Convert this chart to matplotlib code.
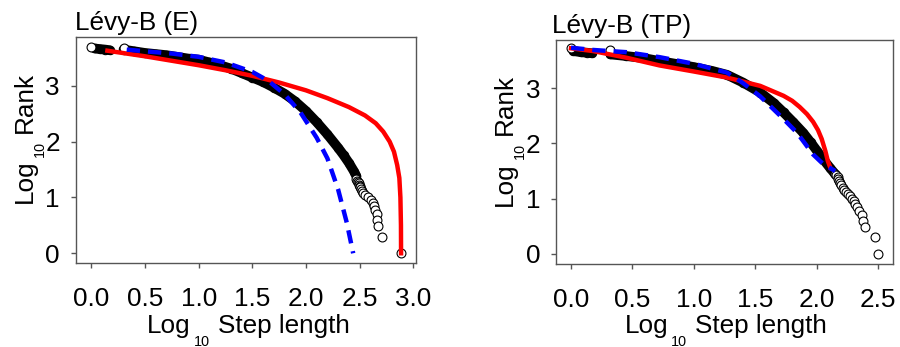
import matplotlib
matplotlib.use("Agg")
import matplotlib.pyplot as plt

plt.rcParams['font.family'] = ['Liberation Sans', 'DejaVu Sans']

# ---------------- data (log10 step length, log10 rank) ----------------
titles = ["Lévy-B (E)", "Lévy-B (TP)"]

# Panel E -- dense part of the observed data (heavily overlapping circles)
E_blob_step = [0.03, 0.08, 0.13, 0.17]
E_blob_rank = [3.67, 3.66, 3.65, 3.64]
E_band_step = [0.30, 0.40, 0.50, 0.60, 0.70, 0.80, 0.90, 1.00, 1.10, 1.20,
               1.30, 1.40, 1.50, 1.60, 1.70, 1.80, 1.90, 2.00, 2.10, 2.20,
               2.30, 2.35, 2.40, 2.45, 2.47]
E_band_rank = [3.65, 3.62, 3.59, 3.57, 3.55, 3.52, 3.49, 3.47, 3.42, 3.37,
               3.31, 3.23, 3.15, 3.07, 2.97, 2.86, 2.72, 2.55, 2.35, 2.13,
               1.89, 1.76, 1.62, 1.46, 1.38]
# Panel E -- sparse (individually visible) circles
E_tail_step = [0.00, 0.30, 2.47, 2.48, 2.485, 2.49, 2.495, 2.50, 2.505, 2.51,
               2.52, 2.535, 2.55, 2.58, 2.61, 2.625, 2.635, 2.645, 2.66,
               2.665, 2.675, 2.71, 2.886]
E_tail_rank = [3.70, 3.67, 1.34, 1.30, 1.28, 1.26, 1.23, 1.20, 1.18, 1.15,
               1.11, 1.08, 1.04, 1.00, 0.95, 0.90, 0.85, 0.78, 0.70,
               0.60, 0.48, 0.30, 0.00]
# Panel E -- fitted models
E_red_step = [0.15, 0.50, 1.00, 1.25, 1.50, 1.75, 2.00, 2.20, 2.40, 2.55,
              2.65, 2.72, 2.78, 2.82, 2.85, 2.87, 2.88, 2.885, 2.886]
E_red_rank = [3.63, 3.53, 3.37, 3.28, 3.18, 3.06, 2.92, 2.78, 2.62, 2.47,
              2.33, 2.18, 2.00, 1.82, 1.58, 1.35, 1.00, 0.50, 0.00]
E_blue_step = [0.33, 0.50, 0.75, 1.00, 1.25, 1.50, 1.65, 1.80, 1.95, 2.10,
               2.20, 2.30, 2.38, 2.44]
E_blue_rank = [3.65, 3.62, 3.58, 3.52, 3.42, 3.25, 3.09, 2.85, 2.52, 2.07,
               1.70, 1.14, 0.55, 0.00]

# Panel TP
TP_blob_step = [0.02, 0.08, 0.13, 0.17]
TP_blob_rank = [3.67, 3.65, 3.64, 3.63]
TP_band_step = [0.32, 0.45, 0.60, 0.72, 0.85, 1.00, 1.15, 1.27, 1.40, 1.54,
                1.65, 1.73, 1.81, 1.89, 1.95, 2.00, 2.05, 2.11, 2.14]
TP_band_rank = [3.61, 3.58, 3.54, 3.49, 3.44, 3.38, 3.31, 3.24, 3.10, 2.92,
                2.73, 2.56, 2.38, 2.19, 2.02, 1.87, 1.72, 1.55, 1.47]
TP_tail_step = [0.00, 0.32, 2.15, 2.16, 2.17, 2.175, 2.18, 2.19, 2.20, 2.21,
                2.225, 2.24, 2.25, 2.27, 2.285, 2.30, 2.31, 2.33, 2.346,
                2.365, 2.38, 2.39, 2.474, 2.495]
TP_tail_rank = [3.73, 3.69, 1.45, 1.42, 1.40, 1.36, 1.32, 1.28, 1.24, 1.20,
                1.16, 1.12, 1.08, 1.04, 1.00, 0.95, 0.90, 0.85, 0.78,
                0.70, 0.60, 0.48, 0.30, 0.00]
TP_red_step = [0.00, 0.18, 0.45, 0.72, 1.00, 1.27, 1.54, 1.73, 1.80, 1.86,
               1.92, 1.97, 2.01, 2.04, 2.07, 2.09, 2.11]
TP_red_rank = [3.72, 3.67, 3.55, 3.41, 3.30, 3.19, 3.04, 2.86, 2.77, 2.66,
               2.53, 2.39, 2.24, 2.08, 1.86, 1.68, 1.56]
TP_blue_step = [0.00, 0.18, 0.45, 0.72, 1.00, 1.27, 1.40, 1.54, 1.73, 1.84,
                1.97, 2.05, 2.15]
TP_blue_rank = [3.73, 3.69, 3.65, 3.56, 3.44, 3.28, 3.09, 2.85, 2.44, 2.19,
                1.80, 1.63, 1.50]

x_ticks = [[0.0, 0.5, 1.0, 1.5, 2.0, 2.5, 3.0], [0.0, 0.5, 1.0, 1.5, 2.0, 2.5]]
y_ticks = [0, 1, 2, 3]
xlabel_parts = ("Log", "10", "Step length")
ylabel_parts = ("Log", "10", "Rank")

panels = [
    dict(blob=(E_blob_step, E_blob_rank), band=(E_band_step, E_band_rank),
         tail=(E_tail_step, E_tail_rank), red=(E_red_step, E_red_rank),
         blue=(E_blue_step, E_blue_rank)),
    dict(blob=(TP_blob_step, TP_blob_rank), band=(TP_band_step, TP_band_rank),
         tail=(TP_tail_step, TP_tail_rank), red=(TP_red_step, TP_red_rank),
         blue=(TP_blue_step, TP_blue_rank)),
]

W, H = 900, 347
positions = [[0.0844, 0.2421, 0.3778, 0.6513], [0.6178, 0.2392, 0.3744, 0.6455]]
xlims = [(-0.143, 3.025), (-0.122, 2.62)]
ylims = [(-0.174, 3.876), (-0.182, 3.87)]
title_x = [-0.004, -0.013]
# label layout in pixels (from the left / from the top of the image)
xlab_center = [248.5, 726.0]
xlab_base = [333.5, 333.5]
ylab_base = [31.7, 511.7]
ylab_center = [137.5, 140.0]

FS = 18.8
SUB_FS = 10.4
SUB_DROP = 12.0
GAP1, GAP2 = 3.0, 8.0

fig = plt.figure(figsize=(W / 100, H / 100), dpi=100)
renderer = fig.canvas.get_renderer()


def text_width(s, size):
    t = fig.text(0, 0, s, fontsize=size)
    w = t.get_window_extent(renderer).width
    t.remove()
    return w


def compound_label(parts, center_px, base_px, vertical):
    sizes = [FS, SUB_FS, FS]
    drops = [0.0, SUB_DROP, 0.0]
    gaps = [0.0, GAP1, GAP2]
    widths = [text_width(s, z) for s, z in zip(parts, sizes)]
    total = sum(widths) + sum(gaps)
    pos = center_px - total / 2.0
    for s, z, d, g, w in zip(parts, sizes, drops, gaps, widths):
        pos += g
        if not vertical:
            x = pos / W
            y = (H - base_px - d) / H
            fig.text(x, y, s, fontsize=z, ha='left', va='baseline')
        else:
            # reading bottom -> top; pos measured upward from the centre (image px from top)
            x = (base_px + d) / W
            y = (H - (center_px + total / 2.0) + (pos - (center_px - total / 2.0))) / H
            fig.text(x, y, s, fontsize=z, ha='left', va='baseline',
                     rotation=90, rotation_mode='anchor')
        pos += w


edge = '#555555'
for i, p in enumerate(panels):
    ax = fig.add_axes(positions[i])
    for key in ('blob', 'band'):
        xs, ys = p[key]
        ax.plot(xs, ys, color='black', lw=7, solid_capstyle='round', zorder=2)
        ax.plot(xs, ys, 'o', ms=6, mfc='none', mec='black', mew=0.8, zorder=2)
    xs, ys = p['tail']
    ax.plot(xs, ys, 'o', ls='none', ms=6.4, mfc='white', mec='black', mew=0.8, zorder=3)
    ax.plot(*p['red'], color='#ff0000', lw=3.2, zorder=4)
    ax.plot(*p['blue'], color='#0000ff', lw=3.2, ls=(0, (3, 1.8)), zorder=5)

    ax.set_xlim(*xlims[i])
    ax.set_ylim(*ylims[i])
    ax.set_xticks(x_ticks[i])
    ax.set_xticklabels([f"{t:.1f}" for t in x_ticks[i]])
    ax.set_yticks(y_ticks)
    ax.set_yticklabels([str(t) for t in y_ticks])
    for s in ax.spines.values():
        s.set_color(edge)
        s.set_linewidth(1.0)
    ax.tick_params(axis='both', direction='out', length=3.5, width=1.0,
                   color=edge, labelsize=FS, labelcolor='black')
    ax.tick_params(axis='x', pad=14)
    ax.tick_params(axis='y', pad=8)
    ax.text(title_x[i], 1.031, titles[i], transform=ax.transAxes,
            fontsize=FS, ha='left', va='baseline')

    compound_label(xlabel_parts, xlab_center[i], xlab_base[i], vertical=False)
    compound_label(ylabel_parts, ylab_center[i], ylab_base[i], vertical=True)

fig.savefig("out.png", dpi=100)
